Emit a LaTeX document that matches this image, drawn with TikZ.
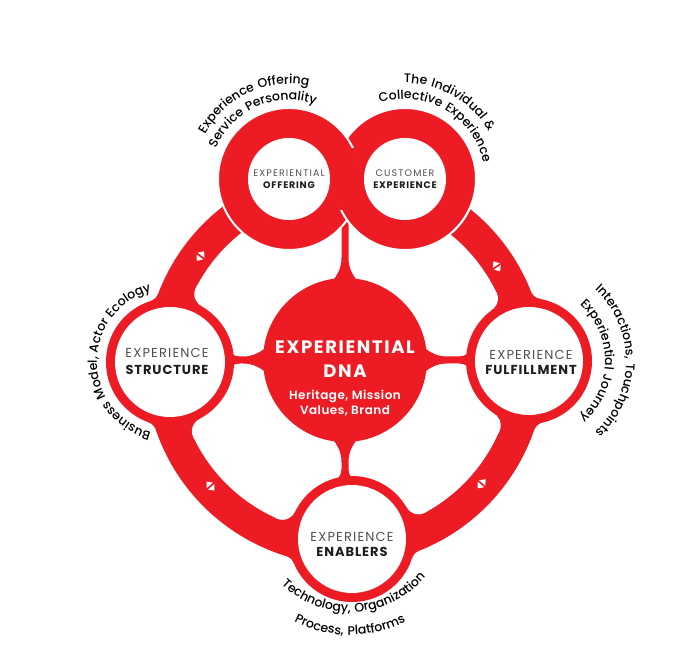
\documentclass[tikz,border=0pt]{standalone}
\usepackage{fontspec}
\setmainfont{Poppins}
\newfontfamily\regls{Poppins}[LetterSpace=9]
\newfontfamily\boldls{Poppins Bold}[LetterSpace=7]
\newfontfamily\regss{Poppins}[LetterSpace=12]
\newfontfamily\boldss{Poppins Bold}[LetterSpace=8]
\newfontfamily\dnaf{Poppins Bold}[LetterSpace=9]
\newfontfamily\semils{Poppins SemiBold}[LetterSpace=4]
\newfontfamily\medf{Poppins Medium}[LetterSpace=7]
\usetikzlibrary{decorations.text,intersections,calc}
\definecolor{dnared}{RGB}{237,28,36}
\definecolor{lgray}{HTML}{505050}
\definecolor{dgray}{HTML}{1E1E1E}
\newcommand\cf{\medf\fontsize{12.5}{14}\selectfont}
% fillet between node ring and band edge
\newcommand\filletpair[5]{%
  \path[name path=fpA] (#1) circle[radius=#2+#5];
  \path[name path=fpB] (C) circle[radius=#3];
  \path[name intersections={of=fpA and fpB, name=fi}];
  \foreach \k in {1,2}{%
    \coordinate (t1) at ($(#1)!#2pt!(fi-\k)$);
    \coordinate (t2) at ($(C)!#4pt!(fi-\k)$);
    \coordinate (mm) at ($(t1)!0.5!(t2)$);
    \coordinate (xx) at ($(fi-\k)!3!(mm)$);
    \fill[dnared] (t1) -- (fi-\k) -- (t2) -- (xx) -- cycle;
    \fill[white] (fi-\k) circle[radius=#5];
  }%
}
\newcommand\fillets[2]{\filletpair{#1}{#2}{212}{200}{12}\filletpair{#1}{#2}{154}{168}{14}}
% spike from DNA centre
\newcommand\spike[3]{%
  \begin{scope}[shift={(D)}, rotate=#1]
    \fill[dnared] (70,-20) .. controls (84,-7) and (92,-3.5) .. (102,-3.5)
      -- (#2-12,-3.5) .. controls (#2-5,-3.5) and (#2-2,-#3+1) .. (#2,-#3)
      -- (#2,#3) .. controls (#2-2,#3-1) and (#2-5,3.5) .. (#2-12,3.5)
      -- (102,3.5) .. controls (92,3.5) and (84,7) .. (70,20) -- cycle;
  \end{scope}}
\newcommand\bimark[1]{%
  \begin{scope}[shift={($(C)+(#1:181)$)}, rotate=#1+90]
    \fill[white] (1,-4.2) -- (1,4.2) -- (6,0) -- cycle;
    \fill[white] (-1,-4.2) -- (-1,4.2) -- (-6,0) -- cycle;
  \end{scope}}
\tikzset{
  lab1/.style={font=\regls\fontsize{13}{15}\selectfont, text=lgray, inner sep=0pt},
  lab2/.style={font=\boldls\fontsize{13}{15}\selectfont, text=dgray, inner sep=0pt},
  slab1/.style={font=\regss\fontsize{9.5}{11}\selectfont, text=lgray, inner sep=0pt},
  slab2/.style={font=\boldss\fontsize{9.5}{11}\selectfont, text=dgray, inner sep=0pt},
  dna1/.style={font=\dnaf\fontsize{18}{20}\selectfont, text=white, inner sep=0pt},
  dna2/.style={font=\semils\fontsize{12}{14}\selectfont, text=white, inner sep=0pt},
  ring/.style={fill=dnared, draw=white, line width=2pt},
}
\begin{document}
\begin{tikzpicture}[x=1pt,y=1pt]
\useasboundingbox (0,0) rectangle (682,653);
\fill[white] (0,0) rectangle (682,653);
\coordinate (C) at (345,288);
\coordinate (O1) at (289,474);
\coordinate (O2) at (405,474);
\coordinate (D) at (345,293);
\coordinate (S) at (170,291);
\coordinate (F) at (529,292);
\coordinate (E) at (352,114);
\coordinate (B) at (350,140);

% big band
\draw[dnared, line width=32pt] ($(C)+(107:184)$) arc[start angle=107, end angle=432, radius=184];

% fillets where band meets node rings
\fillets{S}{64}
\fillets{F}{63}
\fillets{E}{63}

% spikes and DNA circle
\spike{90}{147}{3.5}
\spike{180}{117}{9}
\spike{0}{126}{9}
\spike{270}{121}{9}
\fill[dnared] (D) circle[radius=82];

% node rings
\fill[dnared] (S) circle[radius=64];
\fill[white] (S) circle[radius=55];
\fill[dnared] (F) circle[radius=63];
\fill[white] (F) circle[radius=54];
\fill[dnared] (E) circle[radius=63];
\fill[white] (E) circle[radius=54];

% infinity rings
\path[ring] (O2) circle[radius=71];
\fill[white] (O2) circle[radius=41];
\path[ring] (O1) circle[radius=71];
\fill[white] (O1) circle[radius=41];
\begin{scope}
  \clip (300,380) rectangle (490,474);
  \path[ring] (O2) circle[radius=71];
  \fill[white] (O2) circle[radius=41];
\end{scope}
\begin{scope}
  \clip (O1) circle[radius=72.5];
  \clip (O2) circle[radius=72.5];
  \fill[dnared] (320,443) rectangle (375,505);
\end{scope}

% double arrow marks on the band
\bimark{143}
\bimark{222}
\bimark{33}
\bimark{319}

% labels inside circles
\node[slab1] (o1a) at (289,480) {EXPERIENTIAL};
\node[slab2] (o1b) at (289,468) {OFFERING};
\node[slab1] (o2a) at (405,480) {CUSTOMER};
\node[slab2] (o2b) at (405,468) {EXPERIENCE};
\node[lab1] (s1) at (167,300) {EXPERIENCE};
\node[lab2] (s2) at (167,283) {STRUCTURE};
\node[lab1] (f1) at (531,298) {EXPERIENCE};
\node[lab2] (f2) at (531,283) {FULFILLMENT};
\node[lab1] (e1) at (352,116) {EXPERIENCE};
\node[lab2] (e2) at (352,101) {ENABLERS};
\node[dna1] (d1) at (345,306) {EXPERIENTIAL};
\node[dna1] (d2) at (345,282) {DNA};
\node[dna2] (d3) at (345,257) {Heritage, Mission};
\node[dna2] (d4) at (345,242) {Values, Brand};

% curved texts
\path[decorate, decoration={text along path, text align=center, text={|\cf|Experience Offering}}]
  ($(O1)+(185:95)$) arc[start angle=185, end angle=45, radius=95];
\path[decorate, decoration={text along path, text align=center, text={|\cf|Service Personality}}]
  ($(O1)+(185:79)$) arc[start angle=185, end angle=43, radius=79];
\path[decorate, decoration={text along path, text align=center, text={|\cf|The Individual {\&}}}]
  ($(O2)+(130:96)$) arc[start angle=130, end angle=-10, radius=96];
\path[decorate, decoration={text along path, text align=center, text={|\cf|Collective Experience}}]
  ($(O2)+(130:80)$) arc[start angle=130, end angle=-10, radius=80];
\path[decorate, decoration={text along path, text align=center, text={|\cf|Business Model, Actor Ecology}}]
  ($(S)+(270:73)$) arc[start angle=270, end angle=90, radius=73];
\path[decorate, decoration={text along path, text align=center, text={|\cf|Interactions, Touchpoints}}]
  ($(F)+(80:97)$) arc[start angle=80, end angle=-80, radius=97];
\path[decorate, decoration={text along path, text align=center, text={|\cf|Experiential Journey}}]
  ($(F)+(80:76)$) arc[start angle=80, end angle=-80, radius=76];
\path[decorate, decoration={text along path, text align=center, text={|\cf|Technology, Organization}}]
  ($(B)+(203:99)$) arc[start angle=203, end angle=343, radius=99];
\path[decorate, decoration={text along path, text align=center, text={|\cf|Process, Platforms}}]
  ($(B)+(220:122)$) arc[start angle=220, end angle=320, radius=122];
\end{tikzpicture}
\end{document}
